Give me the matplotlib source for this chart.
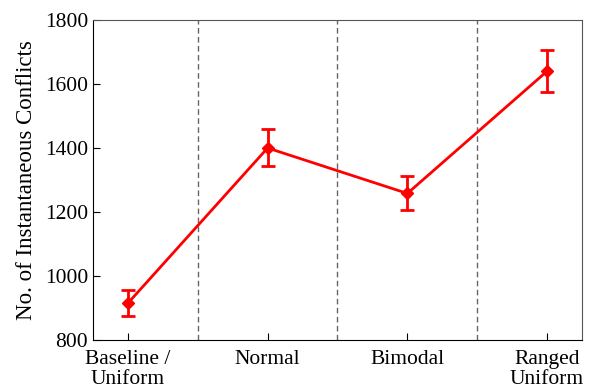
import numpy as np
import matplotlib.pyplot as plt

plt.rcParams['font.family'] = ['Liberation Serif', 'DejaVu Serif']
plt.rcParams['mathtext.fontset'] = 'stix'

categories = ['Baseline /\nUniform', 'Normal', 'Bimodal', 'Ranged\nUniform']
conflicts = [915, 1400, 1258, 1640]
err_low = [40, 55, 53, 65]
err_high = [40, 58, 54, 66]

fig = plt.figure(figsize=(6.01, 3.88), dpi=100)
ax = fig.add_axes([0.1547, 0.1237, 0.8137, 0.8248])

x = np.arange(len(categories))
ax.errorbar(x, conflicts, yerr=[err_low, err_high], color='red', lw=2,
            marker='D', markersize=6, capsize=5, capthick=2, elinewidth=2)

for sep in x[:-1] + 0.5:
    ax.axvline(sep, color='#666666', ls='--', lw=1, dashes=(4, 2.5))

ax.set_xlim(-0.25, 3.25)
ax.set_ylim(800, 1800)
ax.set_yticks(np.arange(800, 1801, 200))
ax.set_xticks(x)
ax.set_xticklabels(categories, fontsize=15.5, linespacing=1.1)
ax.tick_params(axis='y', labelsize=15.5)
ax.tick_params(axis='x', pad=7)
ax.tick_params(direction='in', top=False, right=False, length=5)
ax.set_ylabel('No. of Instantaneous Conflicts', fontsize=16.5, labelpad=6)

for side in ['top', 'right']:
    ax.spines[side].set_color('#555555')

fig.savefig('out.png', dpi=100)
